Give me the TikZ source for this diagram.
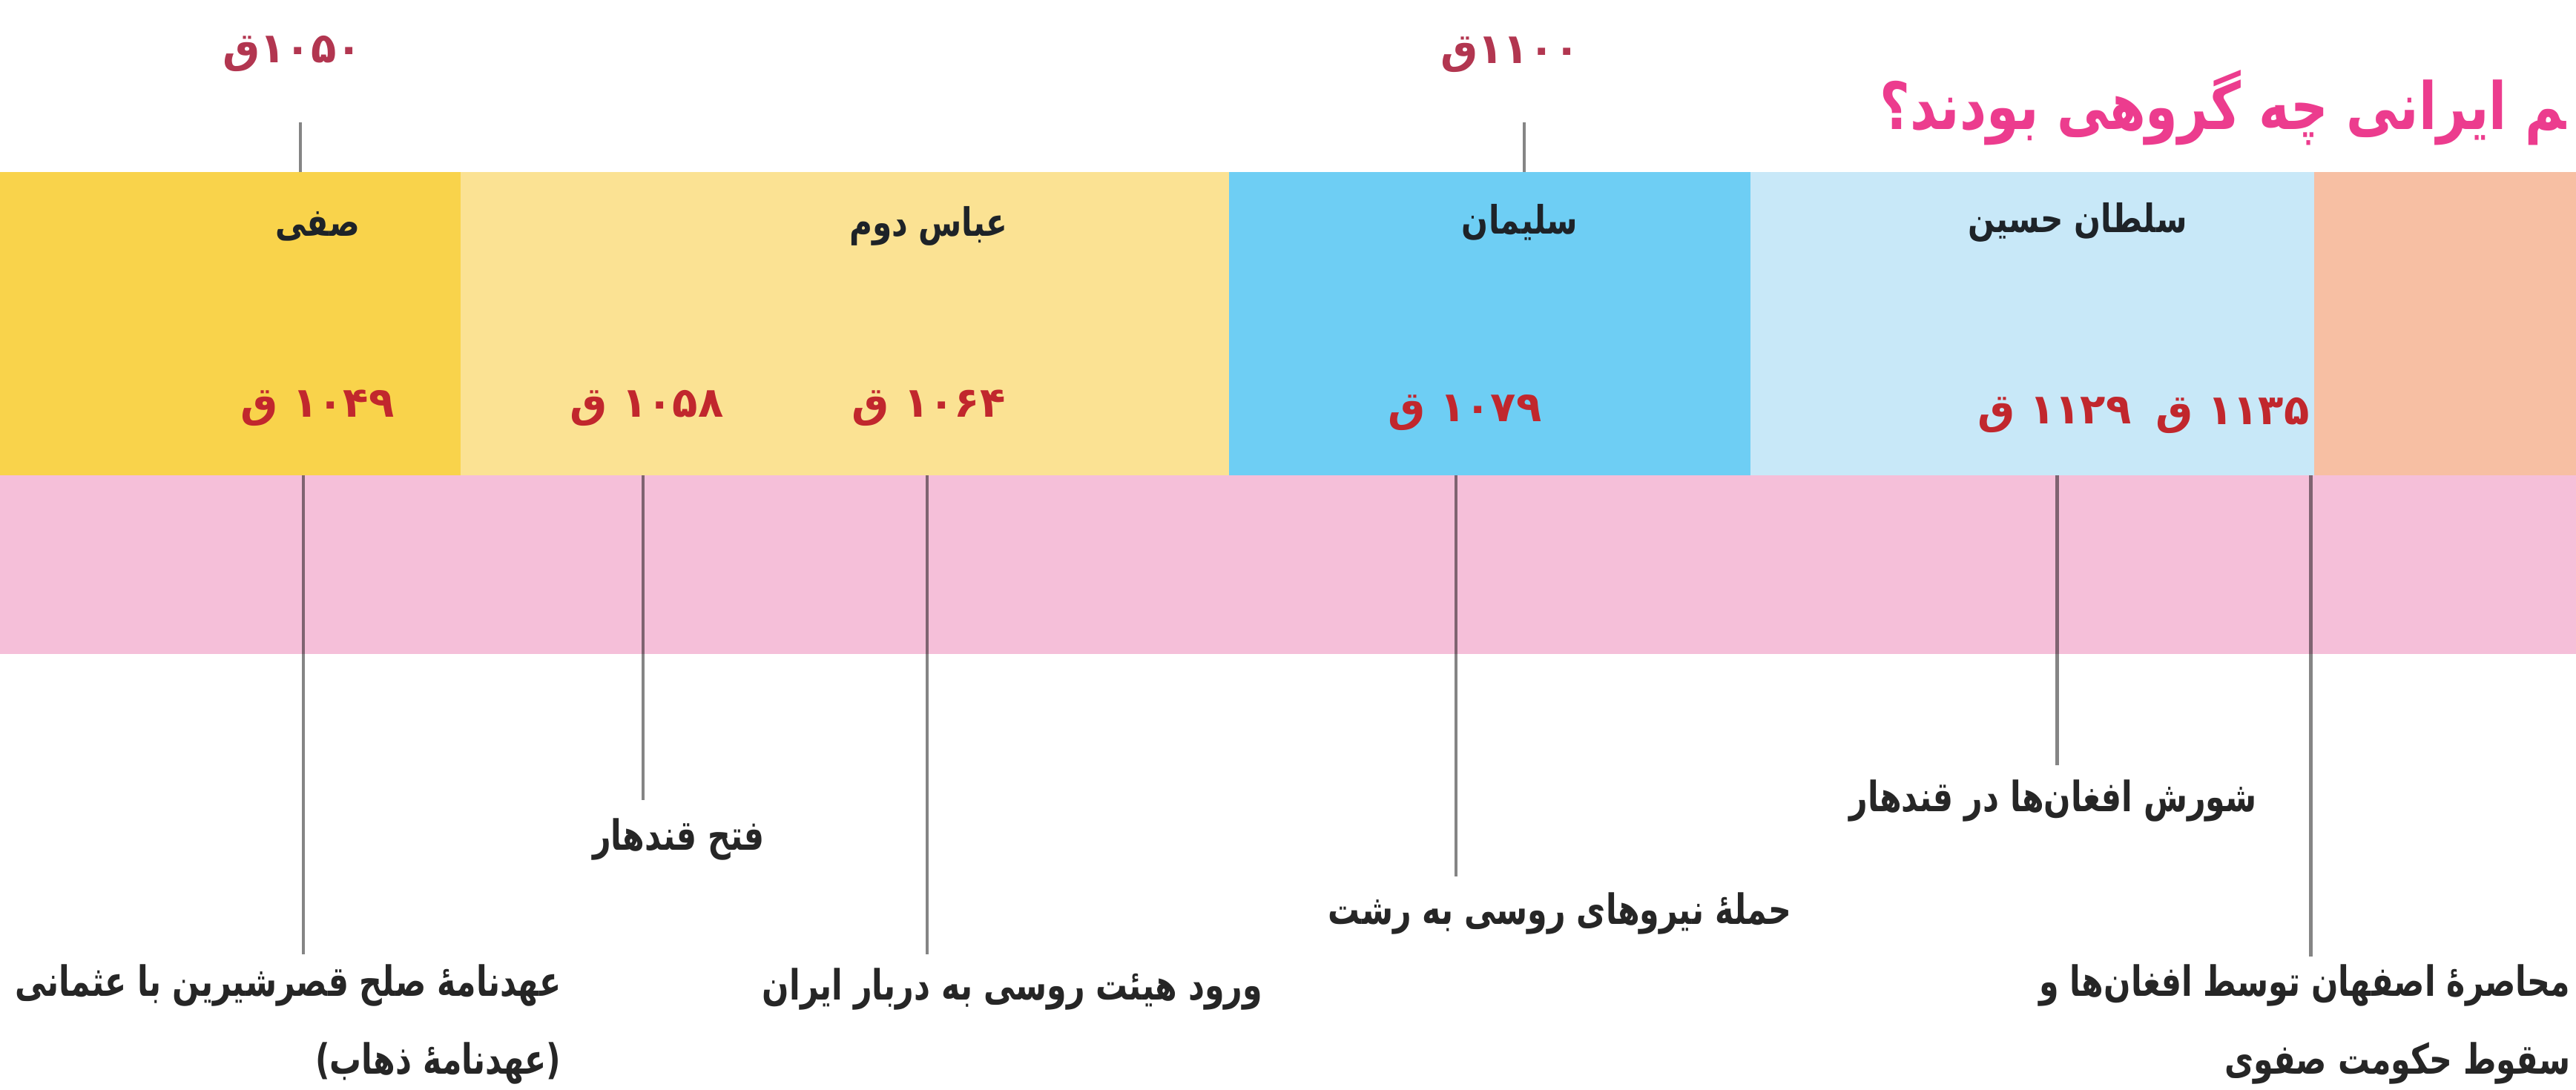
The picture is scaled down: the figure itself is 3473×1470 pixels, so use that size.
\documentclass[tikz,border=0pt]{standalone}
\usepackage{fontspec}
\usepackage{tikz}
\usetikzlibrary{positioning}
\TeXXeTstate=1
\newfontfamily\fa[Script=Arabic]{DejaVu Sans}
\newfontfamily\fan[Script=Arabic,FakeStretch=0.8]{DejaVu Sans}
\newfontfamily\fae[Script=Arabic,FakeStretch=0.76]{DejaVu Sans}
\definecolor{safi}{HTML}{F9D34B}
\definecolor{abbas}{HTML}{FBE293}
\definecolor{soleiman}{HTML}{6ECEF4}
\definecolor{hossein}{HTML}{C8E8F8}
\definecolor{salmon}{HTML}{F7BFA3}
\definecolor{pinkband}{HTML}{F5BFD9}
\definecolor{datered}{HTML}{C1272D}
\definecolor{yearred}{HTML}{B23650}
\definecolor{titlepink}{HTML}{EC3C8E}
\definecolor{kingtext}{HTML}{1E2328}

\begin{document}
\begin{tikzpicture}[x=0.01cm,y=-0.01cm,
                    king/.style={font=\fan\bfseries\fontsize{15}{18}\selectfont,text=kingtext},
                    date/.style={font=\fa\bfseries\fontsize{16}{19}\selectfont,text=datered},
                    year/.style={font=\fa\bfseries\fontsize{16}{19}\selectfont,text=yearred},
                    event/.style={font=\fae\bfseries\fontsize{16}{30}\selectfont,align=right,inner sep=0pt,text=black!85},
                    stem/.style={draw=black,draw opacity=0.48,line width=1.4pt}]
	\useasboundingbox (0,0) rectangle (3473,1470);

	\fill[safi]		(0,232)		rectangle (621,641);
	\fill[abbas]	(621,232)	rectangle (1657,641);
	\fill[soleiman]	(1657,232)	rectangle (2360,641);
	\fill[hossein]	(2360,232)	rectangle (3120,641);
	\fill[salmon]	(3120,232)	rectangle (3473,641);
	\fill[pinkband]	(0,641)		rectangle (3473,882);

	\node[font=\fan\bfseries\fontsize{25}{28}\selectfont,text=titlepink,anchor=east,inner sep=0pt]
		(title) at (3460,145) {\beginR ^^^^200dم ایرانی چه گروهی بودند؟\endR};

	\node[year]		(y0)	at (394,72)		{\beginR ۱۰۵۰ق\endR};
	\node[year]		(y1)	at (2036,74)	{\beginR ۱۱۰۰ق\endR};

	\node[king]		(k0)	at (428,305)	{\beginR صفی\endR};
	\node[king]		(k1)	at (1252,305)	{\beginR عباس دوم\endR};
	\node[king]		(k2)	at (2049,300)	{\beginR سلیمان\endR};
	\node[king]		(k3)	at (2801,300)	{\beginR سلطان حسین\endR};

	\node[date]		(d0)	at (428,550)	{\beginR ۱۰۴۹ ق\endR};
	\node[date]		(d1)	at (872,550)	{\beginR ۱۰۵۸ ق\endR};
	\node[date]		(d2)	at (1252,550)	{\beginR ۱۰۶۴ ق\endR};
	\node[date]		(d3)	at (1975,557)	{\beginR ۱۰۷۹ ق\endR};
	\node[date]		(d4)	at (2770,560)	{\beginR ۱۱۲۹ ق\endR};
	\node[date]		(d5)	at (3010,560)	{\beginR ۱۱۳۵ ق\endR};

	\node[event,anchor=north east]	(e0)	at (757,1300)	{\beginR عهدنامهٔ صلح قصرشیرین با عثمانی\endR\\\beginR (عهدنامهٔ ذهاب)\endR};
	\node[event]	(e1)	at (915,1132)	{\beginR فتح قندهار\endR};
	\node[event]	(e2)	at (1365,1334)	{\beginR ورود هیئت روسی به دربار ایران\endR};
	\node[event]	(e3)	at (2103,1232)	{\beginR حملهٔ نیروهای روسی به رشت\endR};
	\node[event]	(e4)	at (2768,1080)	{\beginR شورش افغان^^^^200cها در قندهار\endR};
	\node[event,anchor=north east]	(e5)	at (3466,1300)	{\beginR محاصرهٔ اصفهان توسط افغان^^^^200cها و\endR\\\beginR سقوط حکومت صفوی\endR};

	\coordinate (t0) at (405,165);		\coordinate (b0) at (405,232);
	\coordinate (t1) at (2055,165);		\coordinate (b1) at (2055,232);
	\coordinate (s0) at (409,641);		\coordinate (f0) at (409,1287);
	\coordinate (s1) at (867,641);		\coordinate (f1) at (867,1079);
	\coordinate (s2) at (1250,641);		\coordinate (f2) at (1250,1287);
	\coordinate (s3) at (1963,641);		\coordinate (f3) at (1963,1182);
	\coordinate (s4) at (2773,641);		\coordinate (f4) at (2773,1032);
	\coordinate (s5) at (3115,641);		\coordinate (f5) at (3115,1290);

	\path[stem]	(t0) edge (b0)
				(t1) edge (b1)
				(s0) edge (f0)
				(s1) edge (f1)
				(s2) edge (f2)
				(s3) edge (f3)
				(s4) edge (f4)
				(s5) edge (f5);
\end{tikzpicture}
\end{document}
